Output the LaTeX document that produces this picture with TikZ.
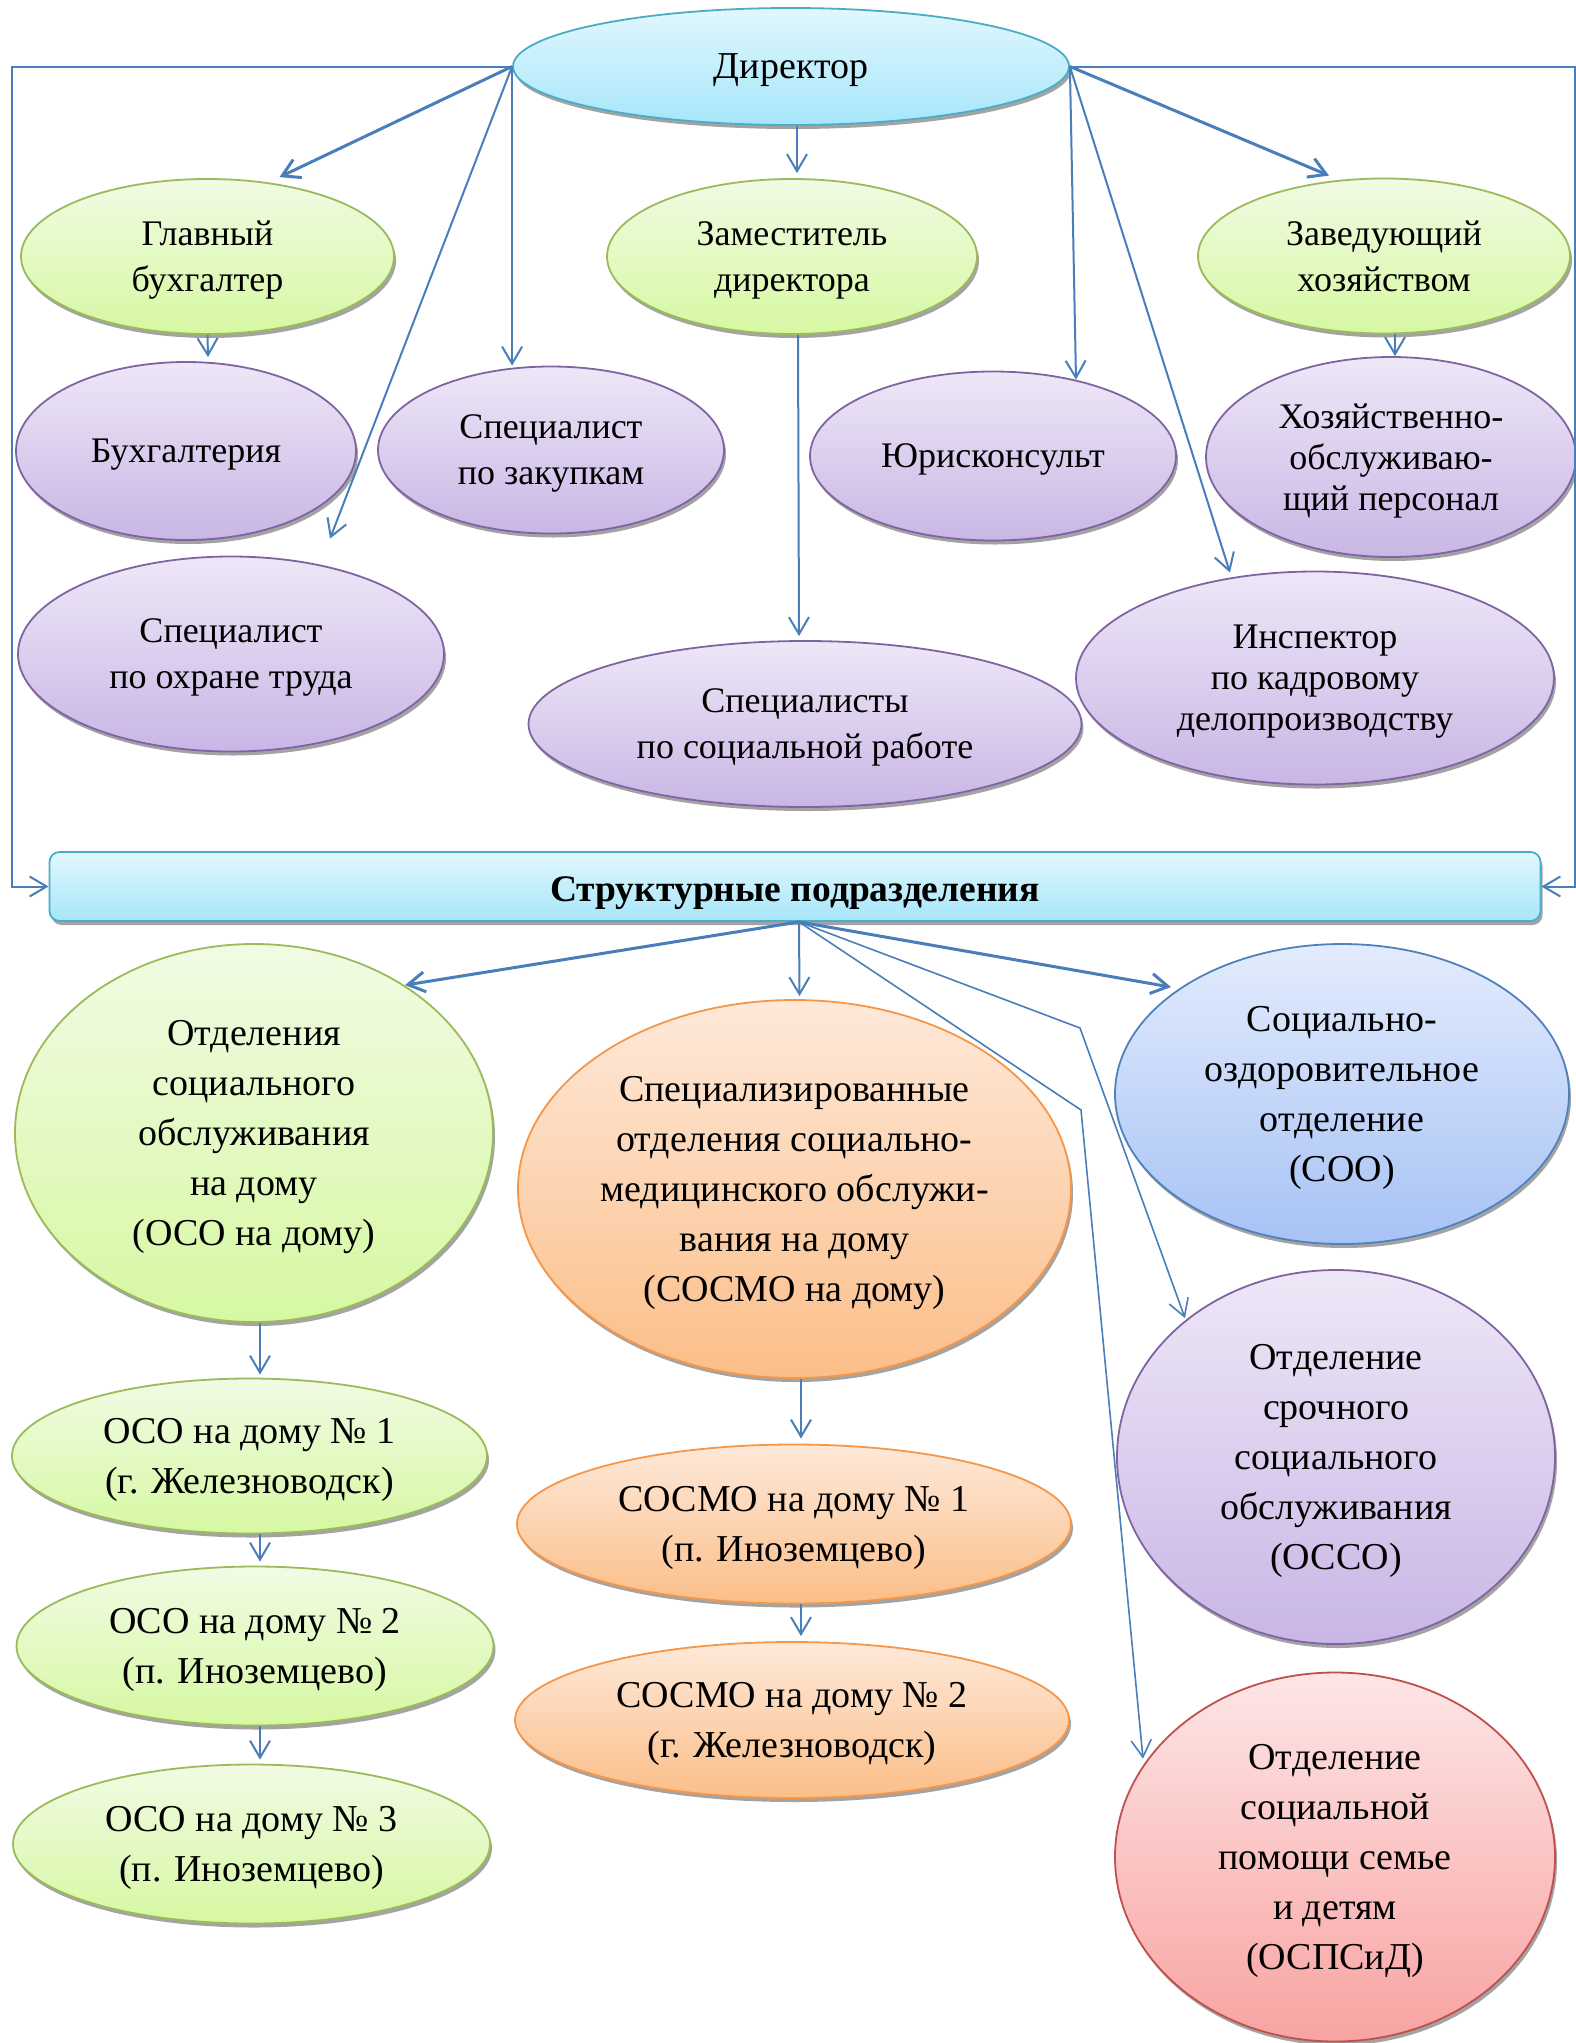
\documentclass[tikz,border=0pt]{standalone}
\usepackage{fontspec}
\setmainfont{Liberation Serif}
\usetikzlibrary{shapes.geometric,arrows.meta,shadows,calc}
\definecolor{lnblue}{HTML}{4A7EBB}
\definecolor{aquaB}{HTML}{4BACC6}
\definecolor{aquaT}{HTML}{E2F7FD}
\definecolor{aquaM}{HTML}{A6E6FA}
\definecolor{grnB}{HTML}{9BBB59}
\definecolor{grnT}{HTML}{F1FBE4}
\definecolor{grnM}{HTML}{D6F8A2}
\definecolor{purB}{HTML}{8064A2}
\definecolor{purT}{HTML}{EEE7F7}
\definecolor{purM}{HTML}{C9B6E5}
\definecolor{orgB}{HTML}{F79646}
\definecolor{orgT}{HTML}{FEE9DA}
\definecolor{orgM}{HTML}{FBBE88}
\definecolor{bluB}{HTML}{4F81BD}
\definecolor{bluT}{HTML}{E3ECFD}
\definecolor{bluM}{HTML}{A7C2F5}
\definecolor{redB}{HTML}{C0504D}
\definecolor{redT}{HTML}{FDE6E6}
\definecolor{redM}{HTML}{F8A3A2}
\begin{document}
\begin{tikzpicture}[x=1pt,y=-1pt,
  base/.style={ellipse, inner sep=0pt, align=center, line width=1.8pt, text depth=0pt,
    drop shadow={shadow xshift=2pt, shadow yshift=-4pt, fill=black!45, opacity=0.8}},
  up/.style={font=\fontsize{36}{46}\selectfont},
  upthree/.style={font=\fontsize{36}{41}\selectfont},
  low/.style={font=\fontsize{38}{50}\selectfont},
  aqua/.style={draw=aquaB, top color=aquaT, bottom color=aquaM},
  grn/.style={draw=grnB, top color=grnT, bottom color=grnM},
  pur/.style={draw=purB, top color=purT, bottom color=purM},
  org/.style={draw=orgB, top color=orgT, bottom color=orgM},
  blu/.style={draw=bluB, top color=bluT, bottom color=bluM},
  rd/.style={draw=redB, top color=redT, bottom color=redM},
  conn/.style={draw=lnblue, line width=2pt, -{Straight Barb[length=17pt,width=20pt]}},
  connB/.style={conn, line width=3pt},
  connT/.style={conn, line width=1.6pt},
]
\useasboundingbox (0,0) rectangle (1576,2043);

% ---- top level ----
\node[base, aqua, font=\fontsize{38}{46}\selectfont, minimum width=556pt, minimum height=117pt] (dir) at (791,66.5) {Директор};

\node[base, grn, up, minimum width=373pt, minimum height=155pt] (gb) at (207.5,256.5) {Главный\\бухгалтер};
\node[base, grn, up, minimum width=370pt, minimum height=155pt] (zam) at (792,256.5) {Заместитель\\директора};
\node[base, grn, up, minimum width=372pt, minimum height=155pt] (zav) at (1384,256) {Заведующий\\хозяйством};

\node[base, pur, up, minimum width=340pt, minimum height=178pt] (bu) at (186,451) {Бухгалтерия};
\node[base, pur, up, minimum width=346pt, minimum height=167pt] (zak) at (551,450) {Специалист\\по закупкам};
\node[base, pur, up, minimum width=366pt, minimum height=169pt] (yur) at (993,456) {Юрисконсульт};
\node[base, pur, upthree, minimum width=370pt, minimum height=200pt] (hoz) at (1391,457) {Хозяйственно-\\обслуживаю-\\щий персонал};
\node[base, pur, up, minimum width=426pt, minimum height=195pt] (sot) at (231,654) {Специалист\\по охране труда};
\node[base, pur, up, minimum width=553pt, minimum height=166pt] (spec) at (805,724) {Специалисты\\по социальной работе};
\node[base, pur, upthree, minimum width=478pt, minimum height=213pt] (ins) at (1315,678) {Инспектор\\по кадровому\\делопроизводству};

% ---- structural box ----
\node[rounded corners=10pt, draw=aquaB, line width=1.8pt, top color=aquaT, bottom color=aquaM,
  drop shadow={shadow xshift=2pt, shadow yshift=-4pt, fill=black!45, opacity=0.8},
  minimum width=1491pt, minimum height=69pt, inner sep=0pt,
  font=\bfseries\fontsize{37.5}{44}\selectfont] (box) at (795,886.5) {\raisebox{-7pt}[\height][\depth]{Структурные подразделения}};

% ---- lower level ----
\node[base, grn, low, minimum width=478pt, minimum height=378pt] (oso) at (254,1133) {Отделения\\социального\\обслуживания\\на дому\\(ОСО на дому)};
\node[base, org, low, minimum width=553pt, minimum height=378pt] (sosmo) at (794.5,1189) {Специализированные\\отделения социально-\\медицинского обслужи-\\вания на дому\\(СОСМО на дому)};
\node[base, blu, low, minimum width=454pt, minimum height=300pt] (soo) at (1342,1094) {Социально-\\оздоровительное\\отделение\\(СОО)};

\node[base, grn, low, minimum width=475pt, minimum height=155pt] (oso1) at (249.5,1456) {ОСО на дому № 1\\(г. Железноводск)};
\node[base, grn, low, minimum width=477pt, minimum height=159pt] (oso2) at (255,1646) {ОСО на дому № 2\\(п. Иноземцево)};
\node[base, grn, low, minimum width=477pt, minimum height=159pt] (oso3) at (251.5,1844) {ОСО на дому № 3\\(п. Иноземцево)};

\node[base, org, low, minimum width=554pt, minimum height=159pt] (sosmo1) at (794,1524) {СОСМО на дому № 1\\(п. Иноземцево)};
\node[base, org, low, minimum width=554pt, minimum height=156pt] (sosmo2) at (792,1720) {СОСМО на дому № 2\\(г. Железноводск)};

\node[base, pur, low, minimum width=438pt, minimum height=374pt] (osso) at (1336,1457) {Отделение\\срочного\\социального\\обслуживания\\(ОССО)};
\node[base, rd, low, minimum width=440pt, minimum height=369pt] (ospsid) at (1335,1857) {Отделение\\социальной\\помощи семье\\и детям\\(ОСПСиД)};

% ---- connectors from director ----
\coordinate (cl) at (12,66.5);
\coordinate (cr) at (1575,66.5);
\draw[conn] (dir.west) -- (cl) |- (box.west);
\draw[conn] (dir.east) -- (cr) |- (box.east);
\draw[connB] (dir.west) -- ([xshift=72pt,yshift=1pt]gb.north);
\draw[conn] (dir.west) -- ([xshift=99pt,yshift=17pt]sot.north);
\draw[conn] (dir.west) -- (dir.west |- zak.north);
\draw[conn] ([xshift=6pt]dir.south) -- ([xshift=5pt,yshift=5pt]zam.north);
\draw[conn] (dir.east) -- ([xshift=83pt,yshift=-9pt]yur.north);
\draw[conn] (dir.east) -- ([xshift=-85pt,yshift=-2pt]ins.north);
\draw[connB] (dir.east) -- ([xshift=-55pt,yshift=2pt]zav.north);

\draw[conn] (gb.south) -- ([xshift=22pt,yshift=4pt]bu.north);
\draw[conn] ([xshift=6pt]zam.south) -- ([xshift=-6pt,yshift=4pt]spec.north);
\draw[conn] ([xshift=11pt]zav.south) -- ([xshift=4pt]hoz.north);

% ---- connectors from structural box ----
\coordinate (bo) at ([xshift=4pt]box.south);
\coordinate (b1) at (1080,1028);
\coordinate (b2) at (1081,1110);
\draw[connB] (bo) -- ([xshift=151pt,yshift=-42pt]oso.north);
\draw[conn] (bo) -- ([xshift=5pt,yshift=3pt]sosmo.north);
\draw[connB] (bo) -- ([xshift=-171pt,yshift=-44pt]soo.north);
\draw[connT] (bo) -- (b1) -- ([xshift=-151pt,yshift=-49pt]osso.north);
\draw[connT] (bo) -- (b2) -- ([xshift=-192pt,yshift=-87pt]ospsid.north);

\draw[conn] ([xshift=6pt]oso.south) -- ([xshift=10.5pt,yshift=3pt]oso1.north);
\draw[conn] ([xshift=10.5pt]oso1.south) -- ([xshift=5pt,yshift=4pt]oso2.north);
\draw[conn] ([xshift=5pt]oso2.south) -- ([xshift=8.5pt,yshift=4pt]oso3.north);
\draw[conn] ([xshift=6.5pt]sosmo.south) -- ([xshift=7pt,yshift=5pt]sosmo1.north);
\draw[conn] ([xshift=7pt]sosmo1.south) -- ([xshift=9pt,yshift=5pt]sosmo2.north);
\end{tikzpicture}
\end{document}
